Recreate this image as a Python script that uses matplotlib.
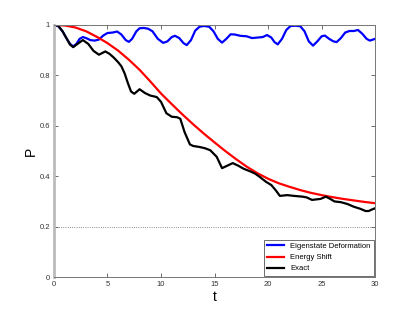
import numpy as np
import matplotlib
matplotlib.use('Agg')
import matplotlib.pyplot as plt

plt.rcParams['font.family'] = ['Liberation Sans', 'DejaVu Sans']

# Eigenstate Deformation (blue)
t_eig = [0, 0.4, 0.8, 1.2, 1.5, 1.8, 2.1, 2.4, 2.7, 3.0, 3.4, 3.8, 4.2, 4.6, 5.0,
         5.5, 5.9, 6.3, 6.7, 7.0, 7.3, 7.7, 8.0, 8.4, 8.8, 9.2, 9.7, 10.2, 10.6,
         11.0, 11.3, 11.7, 12.1, 12.4, 12.8, 13.2, 13.6, 14.0, 14.5, 14.9, 15.3,
         15.7, 16.1, 16.5, 16.9, 17.4, 18.0, 18.5, 19.0, 19.5, 19.9, 20.3, 20.6,
         20.9, 21.3, 21.7, 22.1, 22.6, 23.0, 23.4, 23.8, 24.2, 24.6, 25.0, 25.3,
         25.7, 26.1, 26.4, 26.8, 27.2, 27.6, 28.0, 28.4, 28.8, 29.2, 29.5, 29.8, 30.0]
p_eig = [1.0, 0.995, 0.975, 0.945, 0.925, 0.915, 0.925, 0.945, 0.952, 0.948, 0.94,
         0.938, 0.942, 0.958, 0.968, 0.97, 0.974, 0.962, 0.94, 0.933, 0.945, 0.975,
         0.987, 0.988, 0.985, 0.975, 0.945, 0.929, 0.935, 0.952, 0.957, 0.948, 0.928,
         0.92, 0.94, 0.978, 0.993, 0.996, 0.993, 0.975, 0.945, 0.93, 0.945, 0.963,
         0.962, 0.957, 0.955, 0.948, 0.95, 0.952, 0.96, 0.95, 0.932, 0.923, 0.945,
         0.98, 0.996, 0.997, 0.995, 0.975, 0.935, 0.918, 0.935, 0.955, 0.958, 0.945,
         0.935, 0.932, 0.948, 0.97, 0.976, 0.976, 0.98, 0.965, 0.945, 0.938, 0.942,
         0.945]

# Energy Shift (red)
t_en = list(range(0, 31))
p_en = [1.0, 0.998, 0.99, 0.975, 0.953, 0.928, 0.898, 0.862, 0.822, 0.776, 0.728,
        0.686, 0.645, 0.606, 0.569, 0.534, 0.5, 0.468, 0.438, 0.412, 0.39, 0.372,
        0.358, 0.345, 0.334, 0.325, 0.317, 0.31, 0.304, 0.298, 0.293]

# Exact (black)
t_ex = [0, 0.4, 0.8, 1.2, 1.5, 1.8, 2.2, 2.7, 3.2, 3.7, 4.2, 4.8, 5.2, 5.6, 6.0, 6.3,
        6.6, 6.9, 7.2, 7.5, 8.0, 8.5, 9.0, 9.6, 10.0, 10.5, 11.0, 11.5, 11.8, 12.2,
        12.7, 13.0, 13.6, 14.1, 14.6, 15.2, 15.7, 16.2, 16.7, 17.2, 17.7, 18.4,
        18.8, 19.2, 19.8, 20.3, 20.7, 21.1, 21.8, 22.4, 23.2, 23.6, 24.1, 24.9,
        25.4, 25.8, 26.2, 26.8, 27.4, 28.0, 28.6, 29.1, 29.4, 29.7, 30.0]
p_ex = [1.0, 0.997, 0.975, 0.945, 0.922, 0.912, 0.925, 0.94, 0.925, 0.897, 0.882,
        0.895, 0.885, 0.87, 0.852, 0.836, 0.808, 0.77, 0.736, 0.727, 0.745, 0.73,
        0.72, 0.714, 0.695, 0.65, 0.636, 0.634, 0.628, 0.575, 0.526, 0.52, 0.516,
        0.511, 0.503, 0.477, 0.432, 0.442, 0.452, 0.442, 0.43, 0.418, 0.41, 0.398,
        0.378, 0.365, 0.345, 0.322, 0.325, 0.322, 0.319, 0.316, 0.306, 0.31, 0.319,
        0.31, 0.3, 0.297, 0.29, 0.279, 0.271, 0.262, 0.262, 0.268, 0.273]

x_ticks = [0, 5, 10, 15, 20, 25, 30]
y_ticks = [0, 0.2, 0.4, 0.6, 0.8, 1]
y_labels = ['0', '0.2', '0.4', '0.6', '0.8', '1']

fig = plt.figure(figsize=(4.15, 3.12), dpi=100)
ax = fig.add_axes([0.130, 0.112, 0.774, 0.808])

ax.axhline(1, color='#999999', lw=0.8, ls=':', zorder=1)
ax.axhline(0.2, color='#666666', lw=0.6, ls=':', zorder=1)

ax.plot(t_eig, p_eig, color='#0000ff', lw=1.6, label='Eigenstate Deformation',
        solid_joinstyle='round')
ax.plot(t_en, p_en, color='#ff0000', lw=1.6, label='Energy Shift',
        solid_joinstyle='round')
ax.plot(t_ex, p_ex, color='#000000', lw=1.6, label='Exact',
        solid_joinstyle='round')

ax.set_xlim(0, 30)
ax.set_ylim(0, 1)
ax.set_xticks(x_ticks)
ax.set_yticks(y_ticks)
ax.set_yticklabels(y_labels)
ax.tick_params(direction='in', top=True, right=True, length=3, width=0.6,
               labelsize=5.5, colors='#555555', labelcolor='#333333', pad=3)

for side in ['top', 'right', 'bottom']:
    ax.spines[side].set_color('#777777')
    ax.spines[side].set_linewidth(0.7)
ax.spines['left'].set_color('#bbbbbb')
ax.spines['left'].set_linewidth(2.0)

ax.set_xlabel('t', fontsize=10, labelpad=1)
ax.set_ylabel('P', fontsize=10, labelpad=1)

leg = ax.legend(loc='lower right', fontsize=5.5, fancybox=False, framealpha=1,
                edgecolor='#555555', handlelength=2.2, borderaxespad=0.2,
                labelspacing=0.5, borderpad=0.4)
leg.get_frame().set_linewidth(0.6)

fig.savefig('out.png', dpi=100)
